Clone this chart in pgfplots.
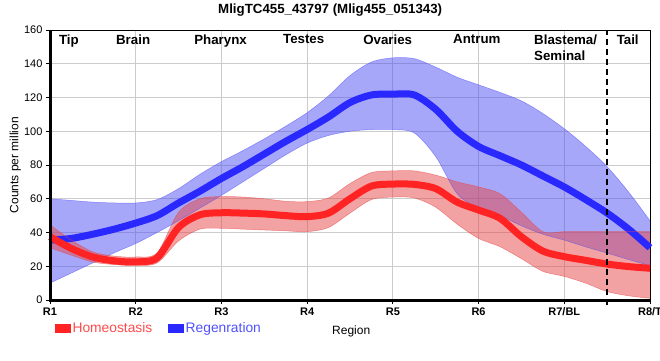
\documentclass[border=0pt]{standalone}
\usepackage{fontspec}
\setmainfont{Liberation Sans}
\usepackage{pgfplots}
\pgfplotsset{compat=1.18}
\usepgfplotslibrary{fillbetween}
\usepackage{pgfplotstable}

\definecolor{rline}{RGB}{255,35,35}
\definecolor{bline}{RGB}{40,40,255}
\definecolor{rband}{RGB}{230,70,70}
\definecolor{bband}{RGB}{80,80,245}
\definecolor{rtext}{RGB}{255,75,75}
\definecolor{btext}{RGB}{80,80,255}

\pgfplotstableread{
x    rl    ru    rd    bl    bu    bd
0    37.5  44.5  31    35.5  60    10
0.25 30.5  35.5  26.5  36.5  59    16
0.5  25.5  28.5  22.5  39    58    22
0.75 23.2  26    21    42    57.5  28
1    22.6  25.5  20.5  45.6  57.5  33.5
1.25 25    28    22    50    59.5  40
1.5  43    52    35    57.5  66    47
1.75 50.5  60    42    64.5  74.5  54.5
2    51.7  61.3  42.5  72    82    62
2.25 51.5  61    42    79    88.5  70
2.5  51    60    41.5  86.5  95.5  78
2.75 50    58.5  41    94    103   86
3    49.4  58.3  40.5  101   111   93
3.25 51.5  60.5  43    108.5 121   97.5
3.5  60    69    51.5  117   133   100
3.75 67.5  75.5  59.5  121.5 141   101
4    68.7  76.5  61    122   143.5 101
4.25 68.5  76.5  60.5  121.5 143   99
4.5  66    74    55    113   138   85
4.75 58    70    45    100   132   63
5    53.3  67    36.5  91    127.5 54.5
5.25 48.4  63    31.6  85.5  123   50
5.5  37.5  52    24.5  80    118   44
5.75 29    40.5  17    73.5  110.5 39
6    25.7  40.5  14    67    101.5 35.5
6.25 23.5  40.5  10    59.5  91    31.5
6.5  21.3  40.5  5     51.5  79    27.8
6.75 19.8  40.5  2.5   42    64    24
7    18.8  40.5  1     31    47    20.3
}\data

\begin{document}
\begin{tikzpicture}
\begin{axis}[
  scale only axis, width=600pt, height=270pt,
  xmin=0, xmax=7, ymin=0, ymax=160,
  xtick={0,...,7},
  xticklabels={R1,R2,R3,R4,R5,R6,R7/BL,R8/T},
  ytick={0,20,...,160},
  grid=major, grid style={line width=0.8pt, black!20},
  axis line style={line width=1pt},
  tick align=outside, tick pos=left,
  tick style={black, line width=1pt}, major tick length=4pt,
  xticklabel style={font=\fontsize{11}{13}\selectfont\bfseries},
  yticklabel style={font=\fontsize{11}{13}\selectfont},
  /pgf/number format/assume math mode=true,
  xlabel={Region},
  xlabel style={at={(axis description cs:0.502,-0.115)}, anchor=center, font=\fontsize{12}{14}\selectfont},
  ylabel={Counts per million},
  ylabel style={at={(axis description cs:-0.058,0.5)}, anchor=center, font=\fontsize{12}{14}\selectfont},
  title={MligTC455\_43797 (Mlig455\_051343)},
  title style={at={(axis description cs:0.467,1.052)}, anchor=center, font=\fontsize{13.3}{15}\selectfont\bfseries},
  clip=false,
  legend columns=2,
  legend style={at={(axis description cs:0.0083,-0.075)}, anchor=north west, draw=none, fill=none,
    inner sep=0pt, column sep=0pt, nodes={inner sep=2pt}, font=\fontsize{13.8}{15}\selectfont},
]
\coordinate (O) at (rel axis cs:0,0);
% blue band and line
\addplot[name path=bu, draw=bband, draw opacity=0.6, line width=0.5pt, smooth, forget plot] table[x=x,y=bu]{\data};
\addplot[name path=bd, draw=bband, draw opacity=0.6, line width=0.5pt, smooth, forget plot] table[x=x,y=bd]{\data};
\addplot[fill=bband, fill opacity=0.5, draw=none, forget plot] fill between[of=bu and bd];
\addplot[bline, line width=7pt, smooth, forget plot] table[x=x,y=bl]{\data};
% red band and line
\addplot[name path=ru, draw=rband, draw opacity=0.6, line width=0.5pt, smooth, forget plot] table[x=x,y=ru]{\data};
\addplot[name path=rd, draw=rband, draw opacity=0.6, line width=0.5pt, smooth, forget plot] table[x=x,y=rd]{\data};
\addplot[fill=rband, fill opacity=0.5, draw=none, forget plot] fill between[of=ru and rd];
\addplot[rline, line width=7pt, smooth, forget plot] table[x=x,y=rl]{\data};

\addlegendimage{legend image code/.code={\fill[rline] (0pt,-4pt) rectangle (15pt,4pt);}}
\addlegendentry{\textcolor{rtext}{Homeostasis}\kern14pt}
\addlegendimage{legend image code/.code={\fill[bline] (0pt,-4pt) rectangle (15pt,4pt);}}
\addlegendentry{\textcolor{btext}{Regenration}}

\draw[dashed, line width=2pt, dash pattern=on 6pt off 4pt] (axis cs:6.5,-3) -- (axis cs:6.5,160);
\draw[line width=3pt] (rel axis cs:0,1) -- (rel axis cs:0,0) -- (rel axis cs:1,0);

\begin{scope}[every node/.style={inner sep=0pt, font=\fontsize{13.3}{16}\selectfont\bfseries}]
\node[anchor=north] at (axis cs:0.22,157.5) {Tip};
\node[anchor=north] at (axis cs:0.97,157.5) {Brain};
\node[anchor=north] at (axis cs:1.99,157.5) {Pharynx};
\node[anchor=north] at (axis cs:2.96,157.5) {Testes};
\node[anchor=north] at (axis cs:3.94,157.5) {Ovaries};
\node[anchor=north] at (axis cs:4.98,157.5) {Antrum};
\node[anchor=north west, align=left] at (axis cs:5.647,157.5) {Blastema/\\Seminal};
\node[anchor=north] at (axis cs:6.74,157.5) {Tail};
\end{scope}
\end{axis}
\pgfresetboundingbox
\useasboundingbox (O) ++(-50pt,-60pt) rectangle ++(660pt,360pt);
\end{tikzpicture}
\end{document}
